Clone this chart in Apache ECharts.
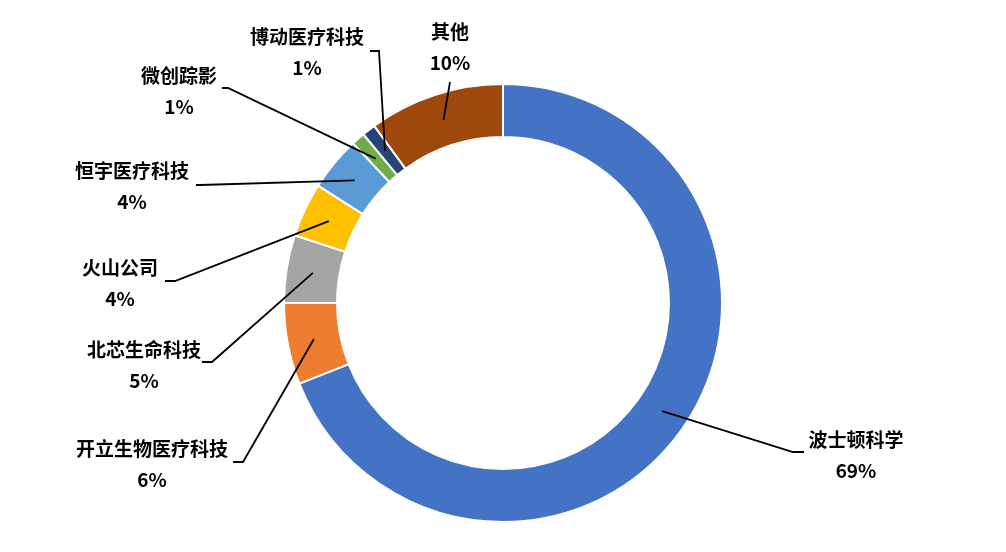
<!DOCTYPE html>
<html>
<head>
<meta charset="utf-8">
<script src="https://cdn.jsdelivr.net/npm/echarts@6/dist/echarts.min.js"></script>
<style>
  html, body { margin: 0; padding: 0; background: #fff; }
</style>
</head>
<body>
<div id="donut" style="width: 1006px;height:552px;"></div>
<script>
// 各公司份额 (%)
var companies = ['波士顿科学', '开立生物医疗科技', '北芯生命科技', '火山公司', '恒宇医疗科技', '微创踪影', '博动医疗科技', '其他'];
var shares = [69, 6, 5, 4, 4, 1, 1, 10];
var colors = ['#4472C4', '#ED7D31', '#A5A5A5', '#FFC000', '#5B9BD5', '#70AD47', '#264478', '#9E480E'];

// 标签位置 (中心点) 与引导线拐点/终点
var labelCenter = [[856, 455], [152, 464], [144, 365], [120, 283], [132, 186], [179, 91], [307, 52], [450, 47]];
var lineElbow = [[793, 452], [243, 462], [212, 362], [175, 281], [200, 185], [228, 88], [379, 51], [450, 82]];
var lineEnd = [[804, 452], [233, 462], [202, 362], [165, 281], [196, 185], [222, 88], [370, 51], [450, 82]];

var cx = 503, cy = 303, r0 = 166, r1 = 219;

var myChart = echarts.init(document.getElementById('donut'));

var total = shares.reduce(function (a, b) { return a + b; }, 0);
// 引导线起点在圆环中间
function midPoint(i) {
  var before = 0;
  for (var k = 0; k < i; k++) before += shares[k];
  var a = (before + shares[i] / 2) / total * Math.PI * 2;
  var rm = (r0 + r1) / 2;
  return [cx + rm * Math.sin(a), cy - rm * Math.cos(a)];
}

var pieData = companies.map(function (name, i) {
  return { name: name, value: shares[i], itemStyle: { color: colors[i] } };
});

var option = {
  animation: false,
  series: [
    {
      name: '市场份额',
      type: 'pie',
      radius: [r0, r1],
      center: [cx, cy],
      startAngle: 90,
      clockwise: true,
      z: 2,
      silent: true,
      itemStyle: {
        borderColor: '#fff',
        borderWidth: 2,
      },
      label: { show: false },
      labelLine: { show: false },
      data: pieData,
    },
    {
      // 透明的第二层, 只负责标签和引导线 (画在圆环上方)
      name: '标签',
      type: 'pie',
      radius: [r0, r1],
      center: [cx, cy],
      startAngle: 90,
      clockwise: true,
      z: 5,
      silent: true,
      itemStyle: { color: 'rgba(0,0,0,0)', borderWidth: 0 },
      label: {
        show: true,
        formatter: '{b}\n{d}%',
        color: '#000',
        fontWeight: 'bold',
        fontSize: 19,
        lineHeight: 31,
        align: 'center',
        fontFamily: '"Noto Sans CJK SC", "Noto Sans", sans-serif',
      },
      labelLine: {
        show: true,
        showAbove: true,
        lineStyle: { color: '#000', width: 1.8 },
      },
      labelLayout: function (params) {
        var i = params.dataIndex;
        return {
          x: labelCenter[i][0],
          y: labelCenter[i][1],
          align: 'center',
          verticalAlign: 'middle',
          labelLinePoints: [midPoint(i), lineElbow[i], lineEnd[i]],
        };
      },
      data: companies.map(function (name, i) {
        return { name: name, value: shares[i] };
      }),
    },
  ],
};

myChart.setOption(option, true);
</script>
</body>
</html>
